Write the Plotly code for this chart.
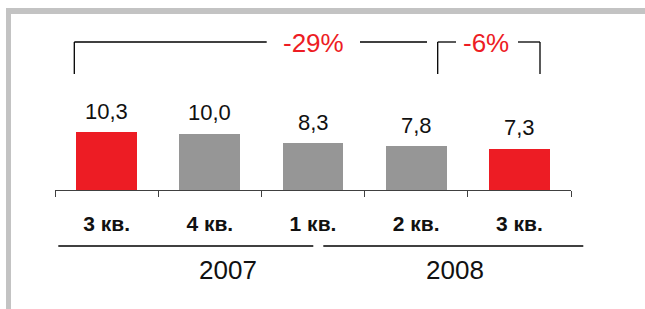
import plotly.graph_objects as go

# ---- data ----
quarters = ["3 кв.", "4 кв.", "1 кв.", "2 кв.", "3 кв."]
values = [10.3, 10.0, 8.3, 7.8, 7.3]
years = ["2007", "2008"]
changes = ["-29%", "-6%"]

# ---- style ----
RED = "#ED1C24"
GRAY = "#969696"
bar_colors = [RED, GRAY, GRAY, GRAY, RED]
FONT = "Liberation Sans, Arial, sans-serif"

W, H = 645, 309
L, R, T, B = 55, 74, 10, 119
PW, PH = W - L - R, H - T - B


def px(x):
    return (x - L) / PW


def py(y):
    return (H - B - y) / PH


xs = list(range(len(quarters)))

fig = go.Figure()
fig.add_trace(go.Bar(x=xs, y=values, marker=dict(color=bar_colors, line=dict(width=0)),
                     width=0.59, hoverinfo="skip"))

annotations = []
for x, v in zip(xs, values):
    annotations.append(dict(x=x, y=v, xref="x", yref="y", text=f"{v:.1f}".replace(".", ","),
                            showarrow=False, yanchor="middle", yshift=21,
                            font=dict(family=FONT, size=22, color="#111111")))

# year labels
for label, cx in zip(years, [227.7, 455.3]):
    annotations.append(dict(x=px(cx), y=py(270), xref="paper", yref="paper", text=label,
                            showarrow=False, xanchor="center", yanchor="middle",
                            font=dict(family=FONT, size=26, color="#111111")))

# change labels
for label, cx in zip(changes, [313, 486]):
    annotations.append(dict(x=px(cx), y=py(43), xref="paper", yref="paper", text=label,
                            showarrow=False, xanchor="center", yanchor="middle",
                            font=dict(family=FONT, size=26, color=RED)))

shapes = []
# frame (top and left grey borders)
shapes.append(dict(type="rect", xref="paper", yref="paper", x0=px(6), x1=px(W + 5),
                   y0=py(14), y1=py(8), fillcolor="#C3C3C3", line=dict(width=0), layer="below"))
shapes.append(dict(type="rect", xref="paper", yref="paper", x0=px(6), x1=px(11),
                   y0=py(H + 5), y1=py(8), fillcolor="#C3C3C3", line=dict(width=0), layer="below"))


def seg(x0, y0, x1, y1, w=1.3):
    shapes.append(dict(type="line", xref="paper", yref="paper", x0=px(x0), y0=py(y0),
                       x1=px(x1), y1=py(y1), line=dict(color="#000000", width=w)))


# brackets
seg(74.3, 42, 74.3, 74)
seg(74.3, 42, 266.7, 42)
seg(360, 42, 427, 42)
seg(437.7, 42, 437.7, 74)
seg(437.7, 42, 456, 42)
seg(518, 42, 540, 42)
seg(540, 42, 540, 74)

# year underlines
seg(58.3, 246, 313.3, 246, 1.6)
seg(323.3, 246, 583.3, 246, 1.6)

fig.update_layout(
    width=W, height=H,
    margin=dict(l=L, r=R, t=T, b=B, pad=0),
    paper_bgcolor="white", plot_bgcolor="white",
    showlegend=False,
    bargap=0,
    annotations=annotations,
    shapes=shapes,
    xaxis=dict(range=[-0.5, len(quarters) - 0.5], tickvals=xs, ticktext=quarters,
               ticks="", showgrid=False, zeroline=False,
               showline=True, linecolor="#404040", linewidth=1,
               tickfont=dict(family=FONT, size=21, color="#111111", weight="bold"),
               ticklabelstandoff=15,
               minor=dict(tickvals=[x - 0.5 for x in xs] + [xs[-1] + 0.5], ticks="outside",
                          ticklen=6, tickcolor="#404040", tickwidth=1, showgrid=False),
               fixedrange=True),
    yaxis=dict(range=[0, 32], visible=False, fixedrange=True),
    font=dict(family=FONT),
)

fig.write_html("out.html", config={"displayModeBar": False},
               post_script="document.body.style.margin='0';document.body.style.overflow='hidden';")
